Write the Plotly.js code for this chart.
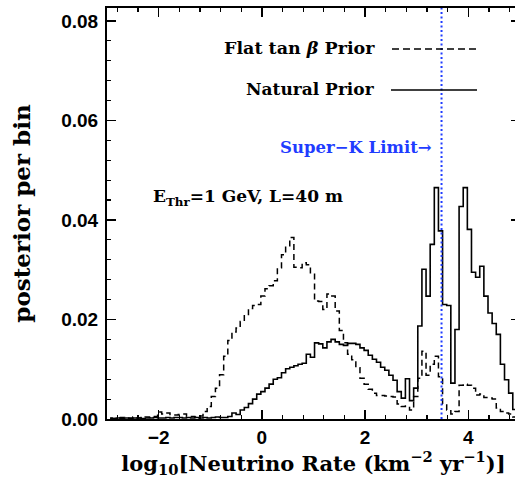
<!DOCTYPE html>
<html>
<head>
<meta charset="utf-8">
<script src="https://cdn.plot.ly/plotly-3.0.1.min.js"></script>
<style>
  html, body { margin: 0; padding: 0; overflow: hidden; background: #fff; }
  #chart { width: 520px; height: 478px; }
</style>
</head>
<body>
<div id="chart"></div>
<script>
// ---- data ----
// histogram bins: 100 bins of width 0.08 in log10(rate)
const binStart = -2.98;
const binWidth = 0.08;

// "Natural Prior" (solid) posterior per bin
const naturalPrior = [
  0.0001,0.0001,0.0002,0.0001,0.0002,0.0001,0.0002,0.0002,0.0001,0.0002,
  0.0002,0.0003,0.0002,0.0002,0.0003,0.0002,0.0003,0.0003,0.0002,0.0003,
  0.0002,0.0003,0.0002,0.0003,0.0002,0.0003,0.0004,0.0003,0.0003,0.0005,
  0.0012,0.0009,0.0018,0.0023,0.0031,0.0040,0.0050,0.0055,0.0062,0.0070,
  0.0080,0.0083,0.0093,0.0101,0.0104,0.0107,0.0110,0.0112,0.0130,0.0124,
  0.0153,0.0151,0.0143,0.0155,0.0160,0.0155,0.0150,0.0148,0.0152,0.0152,
  0.0150,0.0143,0.0138,0.0128,0.0120,0.0114,0.0104,0.0098,0.0088,0.0078,
  0.0055,0.0042,0.0081,0.0037,0.0062,0.0187,0.0301,0.0247,0.0351,0.0465,
  0.0378,0.0230,0.0228,0.0072,0.0180,0.0427,0.0465,0.0381,0.0295,0.0285,
  0.0307,0.0247,0.0213,0.0192,0.0170,0.0110,0.0079,0.0052,0.0019,0.0006
];

// "Flat tan beta Prior" (dashed) posterior per bin
const flatTanBetaPrior = [
  0.0002,0.0001,0.0002,0.0003,0.0002,0.0002,0.0004,0.0002,0.0003,0.0004,
  0.0003,0.0005,0.0014,0.0010,0.0012,0.0009,0.0008,0.0009,0.0010,0.0005,
  0.0005,0.0004,0.0006,0.0015,0.0025,0.0045,0.0062,0.0089,0.0126,0.0158,
  0.0175,0.0183,0.0196,0.0210,0.0222,0.0228,0.0230,0.0247,0.0262,0.0268,
  0.0278,0.0304,0.0330,0.0348,0.0365,0.0305,0.0304,0.0314,0.0310,0.0291,
  0.0237,0.0236,0.0220,0.0251,0.0247,0.0217,0.0178,0.0153,0.0130,0.0119,
  0.0103,0.0082,0.0070,0.0060,0.0052,0.0047,0.0047,0.0046,0.0045,0.0044,
  0.0030,0.0025,0.0026,0.0018,0.0045,0.0082,0.0136,0.0088,0.0110,0.0126,
  0.0085,0.0030,0.0018,0.0010,0.0015,0.0068,0.0070,0.0068,0.0062,0.0048,
  0.0050,0.0043,0.0042,0.0040,0.0022,0.0015,0.0012,0.0010,0.0004,0.0006
];

const superKLimit = 3.48;
const xTickVals = [-2, 0, 2, 4];
const yTickVals = [0, 0.02, 0.04, 0.06, 0.08];

const binCenters = naturalPrior.map((_, i) => binStart + binWidth * (i + 0.5));

// ---- layout helpers ----
const W = 520, H = 478;
const M = { l: 107, r: 0, t: 8, b: 59 };
const pw = W - M.l - M.r, ph = H - M.t - M.b;
const px = (x) => (x - M.l) / pw;      // pixel -> paper x
const py = (y) => (H - M.b - y) / ph;  // pixel -> paper y

const serif = 'DejaVu Serif, serif';
const blue = '#1f3cff';

const traces = [
  {
    x: binCenters, y: flatTanBetaPrior, type: 'scatter', mode: 'lines',
    name: 'Flat tan β Prior',
    line: { shape: 'hvh', color: '#000', width: 1.5, dash: '6px,4px' },
    hoverinfo: 'x+y'
  },
  {
    x: binCenters, y: naturalPrior, type: 'scatter', mode: 'lines',
    name: 'Natural Prior',
    line: { shape: 'hvh', color: '#000', width: 1.6 },
    hoverinfo: 'x+y'
  }
];

const axisCommon = {
  showline: true, linecolor: '#000', linewidth: 2,
  mirror: 'allticks', ticks: 'inside', tickcolor: '#000',
  tickwidth: 1.5, ticklen: 9, zeroline: false, showgrid: false,
  tickfont: { family: 'Liberation Sans, Arial, sans-serif', size: 19, color: '#000', weight: 'bold' }
};

const layout = {
  width: W, height: H,
  margin: M,
  paper_bgcolor: '#fff', plot_bgcolor: '#fff',
  showlegend: false,
  xaxis: Object.assign({}, axisCommon, {
    range: [-3, 5], tickvals: xTickVals,
    minor: { dtick: 0.4, tick0: 0, ticks: 'inside', ticklen: 4, tickwidth: 1.2, tickcolor: '#000', showgrid: false },
    title: {
      text: 'log<sub>10</sub>[Neutrino Rate (km<sup>−2</sup> yr<sup>−1</sup>)]',
      font: { family: serif, size: 21, color: '#000', weight: 'bold' }, standoff: 7
    }
  }),
  yaxis: Object.assign({}, axisCommon, {
    range: [0, 0.0826], tickvals: yTickVals, tickformat: '.2f',
    ticklabelstandoff: 3,
    minor: { dtick: 0.004, tick0: 0, ticks: 'inside', ticklen: 4, tickwidth: 1.2, tickcolor: '#000', showgrid: false },
    title: {
      text: 'posterior per bin',
      font: { family: serif, size: 23, color: '#000', weight: 'bold' }, standoff: 24
    }
  }),
  shapes: [
    { type: 'line', xref: 'x', yref: 'paper', x0: superKLimit, x1: superKLimit, y0: 0, y1: 1,
      line: { color: blue, width: 2, dash: '2px,2.5px' } },
    { type: 'line', xref: 'paper', yref: 'paper', x0: px(392), x1: px(477), y0: py(49), y1: py(49),
      line: { color: '#000', width: 1.5, dash: '7px,4px' } },
    { type: 'line', xref: 'paper', yref: 'paper', x0: px(391), x1: px(477), y0: py(90), y1: py(90),
      line: { color: '#000', width: 1.6 } }
  ],
  annotations: [
    { xref: 'paper', yref: 'paper', x: px(377), y: py(48), xanchor: 'right', yanchor: 'middle',
      text: 'Flat tan <i>β</i> Prior', showarrow: false,
      font: { family: serif, size: 17.5, color: '#000', weight: 'bold' } },
    { xref: 'paper', yref: 'paper', x: px(377), y: py(89), xanchor: 'right', yanchor: 'middle',
      text: 'Natural Prior', showarrow: false,
      font: { family: serif, size: 17, color: '#000', weight: 'bold' } },
    { xref: 'paper', yref: 'paper', x: px(434), y: py(147), xanchor: 'right', yanchor: 'middle',
      text: 'Super−K Limit→', showarrow: false,
      font: { family: serif, size: 16.5, color: blue, weight: 'bold' } },
    { xref: 'paper', yref: 'paper', x: px(151), y: py(197), xanchor: 'left', yanchor: 'middle',
      text: 'E<sub>Thr</sub>=1 GeV, L=40 m', showarrow: false,
      font: { family: serif, size: 17, color: '#000', weight: 'bold' } }
  ]
};

Plotly.newPlot('chart', traces, layout, { displayModeBar: false, staticPlot: true });
</script>
</body>
</html>
